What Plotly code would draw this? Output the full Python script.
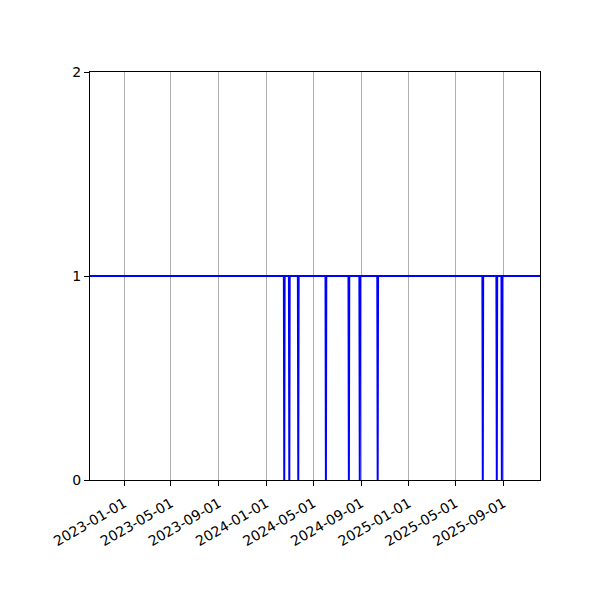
import pandas as pd
import plotly.graph_objects as go

# series runs at 1 except on the days listed in drop_dates, where it is 0
series_start = "2022-10-05"
series_end = "2025-12-04"
drop_dates = [
    "2024-02-16", "2024-02-29", "2024-03-23", "2024-06-02", "2024-07-31",
    "2024-08-28", "2024-10-13", "2025-07-10", "2025-08-15", "2025-08-28",
]
tick_dates = [
    "2023-01-01", "2023-05-01", "2023-09-01", "2024-01-01", "2024-05-01",
    "2024-09-01", "2025-01-01", "2025-05-01", "2025-09-01",
]
y_ticks = [0, 1, 2]

xs = [pd.Timestamp(series_start)]
ys = [1]
for d in drop_dates:
    t = pd.Timestamp(d)
    xs += [t - pd.Timedelta(days=1), t, t + pd.Timedelta(days=1)]
    ys += [1, 0, 1]
xs.append(pd.Timestamp(series_end))
ys.append(1)

fig = go.Figure()
fig.add_trace(go.Scatter(x=xs, y=ys, mode="lines",
                         line=dict(color="#0000ff", width=2)))

axis_common = dict(
    showline=True, linecolor="black", linewidth=1, mirror=True,
    ticks="outside", ticklen=5, tickcolor="black", tickwidth=1,
    tickfont=dict(family="DejaVu Sans", size=14, color="black"),
    zeroline=False,
)

# the page body adds 8px, so margins are trimmed to keep the axes in place
fig.update_layout(
    width=600, height=600,
    margin=dict(l=82, r=68, t=64, b=128),
    paper_bgcolor="white", plot_bgcolor="white",
    showlegend=False,
    xaxis=dict(
        range=[series_start, series_end],
        tickvals=tick_dates, ticktext=tick_dates,
        tickangle=-30, ticklabelstandoff=4,
        showgrid=True, gridcolor="#b0b0b0", gridwidth=1,
        **axis_common,
    ),
    yaxis=dict(
        range=[0, 2], tickvals=y_ticks,
        showgrid=False,
        **axis_common,
    ),
)

fig.write_html("out.html")
